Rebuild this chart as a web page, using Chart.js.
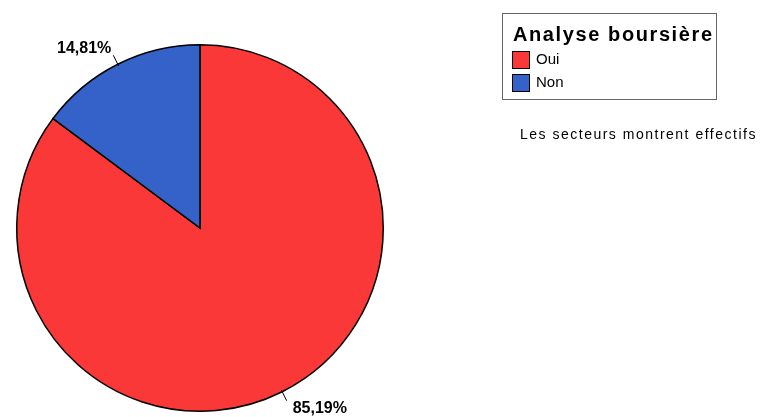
<!DOCTYPE html>
<html>
<head>
<meta charset="utf-8">
<script src="https://cdn.jsdelivr.net/npm/chart.js@4/dist/chart.umd.min.js"></script>
<style>
  html, body { margin: 0; padding: 0; background: #fff; }
  #wrap { position: relative; width: 763px; height: 417px; font-family: "Liberation Sans", Arial, sans-serif; }
  canvas { position: absolute; left: 0; top: 0; }
  .legend { position: absolute; left: 502px; top: 13px; width: 215px; height: 87px; border: 1px solid #666; box-sizing: border-box; }
  .legend .title { position: absolute; left: 10px; top: 9px; font-weight: bold; font-size: 20px; letter-spacing: 1.6px; color: #000; white-space: nowrap; }
  .legend .item { position: absolute; left: 9px; font-size: 15px; color: #000; white-space: nowrap; }
  .legend .sw { display: inline-block; width: 18px; height: 18px; border: 1px solid #000; box-sizing: border-box; vertical-align: middle; margin-right: 6px; }
  .note { position: absolute; left: 520px; top: 126px; font-size: 14px; letter-spacing: 1.5px; color: #000; white-space: nowrap; }
</style>
</head>
<body>
<div id="wrap">
  <canvas id="c" width="763" height="417"></canvas>
  <div class="legend" id="legend"></div>
  <div class="note">Les secteurs montrent effectifs</div>
</div>
<script>
const legendTitle = "Analyse boursière";
const categories = ["Oui", "Non"];
const percents = [85.19, 14.81];
const labels = ["85,19%", "14,81%"];
const colors = ["#FB3838", "#3462C9"];

// legend box
const legendEl = document.getElementById("legend");
legendEl.innerHTML = '<div class="title">' + legendTitle + '</div>' +
  categories.map((c, i) =>
    '<div class="item" style="top:' + (36 + i * 23) + 'px"><span class="sw" style="background:' + colors[i] + '"></span>' + c + '</div>'
  ).join("");

// percent labels with short leader lines, SPSS style
const outsideLabels = {
  id: "outsideLabels",
  afterDatasetsDraw(chart) {
    const ctx = chart.ctx;
    const meta = chart.getDatasetMeta(0);
    ctx.save();
    meta.data.forEach((arc, i) => {
      const mid = (arc.startAngle + arc.endAngle) / 2;
      const cx = arc.x, cy = arc.y, r = arc.outerRadius;
      const x1 = cx + Math.cos(mid) * (r - 2), y1 = cy + Math.sin(mid) * (r - 2);
      const x2 = cx + Math.cos(mid) * (r + 10), y2 = cy + Math.sin(mid) * (r + 10);
      ctx.strokeStyle = "#000";
      ctx.lineWidth = 1;
      ctx.beginPath();
      ctx.moveTo(x1, y1);
      ctx.lineTo(x2, y2);
      ctx.stroke();
      ctx.font = "bold 16px 'Liberation Sans', Arial, sans-serif";
      ctx.fillStyle = "#000";
      const left = Math.cos(mid) < 0;
      const top = Math.sin(mid) < 0;
      ctx.textAlign = left ? "right" : "left";
      ctx.textBaseline = top ? "bottom" : "top";
      ctx.fillText(labels[i], x2 + (left ? -2 : 6), y2 + (top ? 1 : 0));
    });
    ctx.restore();
  }
};

new Chart(document.getElementById("c"), {
  type: "pie",
  data: {
    labels: categories,
    datasets: [{
      data: percents,
      backgroundColor: colors,
      borderColor: "#000",
      borderWidth: 1.5,
      borderJoinStyle: "miter"
    }]
  },
  options: {
    responsive: false,
    animation: false,
    rotation: 0,
    layout: { padding: { left: 16, right: 379, top: 44, bottom: 5 } },
    plugins: {
      legend: { display: false },
      tooltip: { enabled: false }
    }
  },
  plugins: [outsideLabels]
});
</script>
</body>
</html>
